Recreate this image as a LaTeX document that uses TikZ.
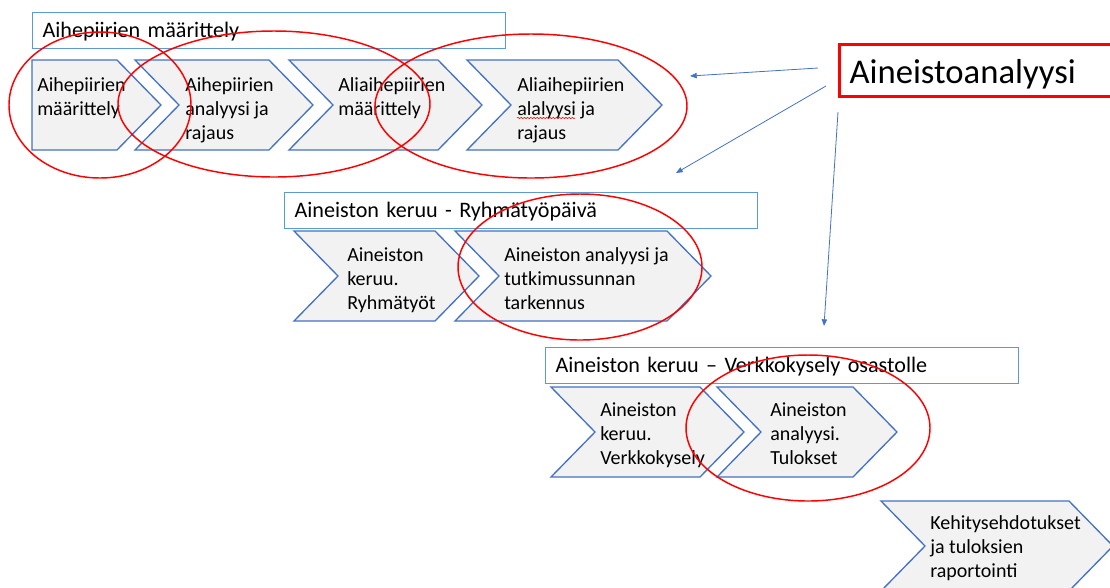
\documentclass[tikz,border=0pt]{standalone}
\usepackage{fontspec}
\setmainfont{Carlito}
\usepackage{xcolor}
\usetikzlibrary{arrows.meta}
\usetikzlibrary{decorations.pathmorphing}
\definecolor{chevblue}{HTML}{4472C4}
\definecolor{boxblue}{HTML}{5B9BD5}
\definecolor{chevgray}{HTML}{F2F2F2}
\def\chevron#1#2#3{\draw[chev] (#1,#3) -- (#2,#3) -- ++(44,45) -- ++(-44,45) -- (#1,#3+90) -- ++(44,-45) -- cycle;}

\begin{document}
\begin{tikzpicture}[x=0.75pt, y=-0.75pt,
    chev/.style={draw=chevblue, fill=chevgray, line width=1pt},
    txt/.style={anchor=north west, align=left, inner sep=0pt, font=\fontsize{15}{18}\selectfont},
    head/.style={draw=boxblue, fill=white, line width=0.8pt, anchor=north west, inner xsep=7.5pt, inner ysep=0pt,
        text width=339.75pt, align=left, text height=18.75pt, text depth=8.25pt, font=\fontsize{16.6}{20}\selectfont},
    ring/.style={draw=red, line width=1.1pt},
    conn/.style={draw=chevblue, line width=0.6pt, -{Triangle[length=5pt, width=4pt]}}]
    \useasboundingbox (0,0) rectangle (1110,587);
    \clip (0,0) rectangle (1110,587);

    \node[head] (h1) at (32,12) {Aihepiirien määrittely};
    \node[head] (h2) at (284,192) {Aineiston keruu - Ryhmätyöpäivä};
    \node[head] (h3) at (545,347) {Aineiston keruu -- Verkkokysely osastolle};

    \draw[chev] (32,60) -- (117,60) -- ++(44,45) -- ++(-44,45) -- (32,150) -- cycle;
    \chevron{135}{269}{60}
    \chevron{289}{438}{60}
    \chevron{467}{618}{60}
    \chevron{294}{435}{231}
    \chevron{455}{667}{231}
    \chevron{551}{700}{387}
    \chevron{717}{853}{387}
    \chevron{881}{1069}{501}

    \node[txt] (t1) at (37,77) {Aihepiirien\\määrittely};
    \node[txt] (t2) at (185,77) {Aihepiirien\\analyysi ja\\rajaus};
    \node[txt] (t3) at (338,77) {Aliaihepiirien\\määrittely};
    \node[txt] (t4) at (517,77) {Aliaihepiirien\\alalyysi ja\\rajaus};
    \node[txt] (t5) at (347,247) {Aineiston\\keruu.\\Ryhmätyöt};
    \node[txt] (t6) at (504,247) {Aineiston analyysi ja\\tutkimussunnan\\tarkennus};
    \node[txt] (t7) at (600,402) {Aineiston\\keruu.\\Verkkokysely};
    \node[txt] (t8) at (770,402) {Aineiston\\analyysi.\\Tulokset};
    \node[txt] (t9) at (930,515) {Kehitysehdotukset\\ja tuloksien\\raportointi};
    \draw[red, line width=0.4pt, decorate, decoration={snake, amplitude=0.5pt, segment length=2.4pt}] (517,118) -- (575,118);

    \node[draw=red, line width=2.3pt, anchor=north west, inner xsep=7.5pt, inner ysep=0pt, text width=270pt, align=left,
        text height=29.25pt, text depth=9.75pt, font=\fontsize{26}{31}\selectfont] (title) at (838,43) {Aineistoanalyysi};

    \draw[ring] (100,105) ellipse [x radius=91, y radius=73];
    \draw[ring] (274,104) ellipse [x radius=156, y radius=73];
    \draw[ring] (531,106) ellipse [x radius=156, y radius=72];
    \draw[ring] (580,267) ellipse [x radius=122, y radius=73];
    \draw[ring] (808,428) ellipse [x radius=122, y radius=73];

    \coordinate (s1) at (818,68);
    \coordinate (s2) at (826,86);
    \coordinate (s3) at (838,112);
    \coordinate (e1) at (690,76);
    \coordinate (e2) at (676,173);
    \coordinate (e3) at (824,326);
    \draw[conn] (s1) -- (e1);
    \draw[conn] (s2) -- (e2);
    \draw[conn] (s3) -- (e3);
\end{tikzpicture}
\end{document}
